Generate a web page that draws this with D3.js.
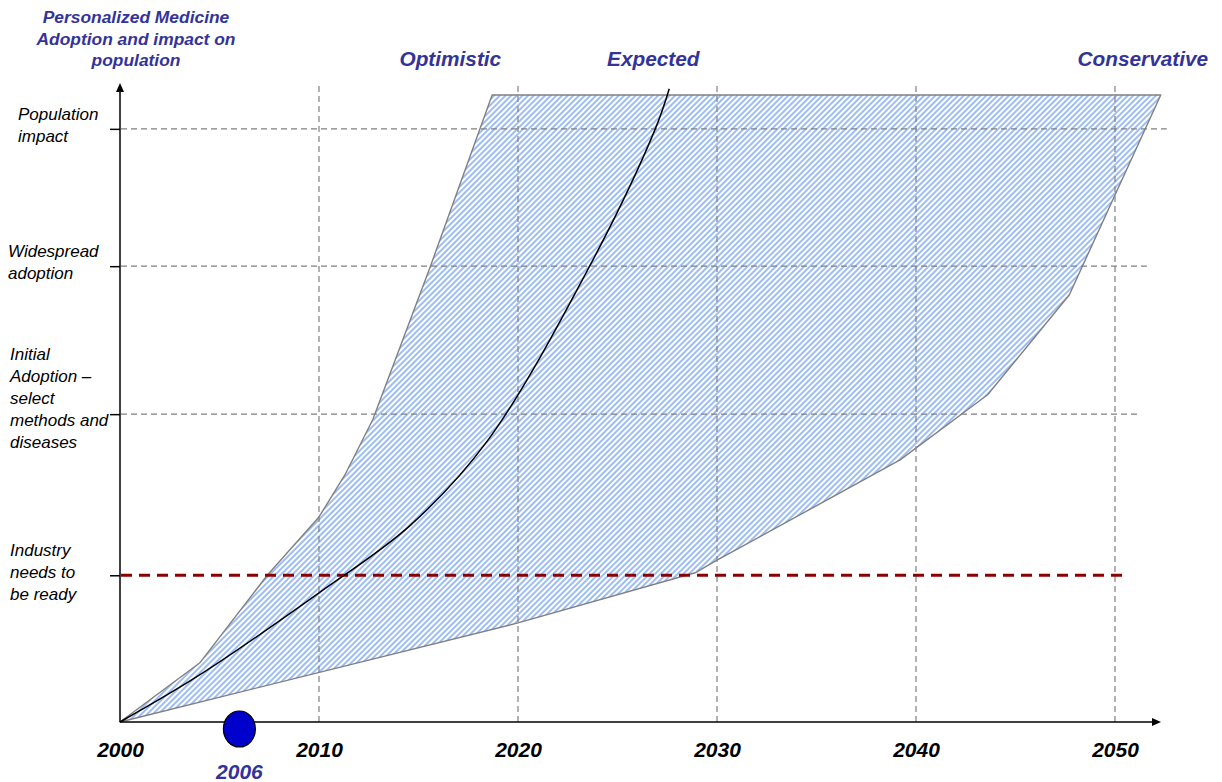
<!DOCTYPE html>
<html>
<head>
<meta charset="utf-8">
<script src="https://cdn.jsdelivr.net/npm/d3@7"></script>
<style>
  body { margin: 0; background: #fff; }
  svg { display: block; font-family: "Liberation Sans", Arial, sans-serif; }
</style>
</head>
<body>
<svg id="chart" width="1222" height="782"></svg>
<script>
// Years marked along the time axis
const yearTicks = [2000, 2010, 2020, 2030, 2040, 2050];

// Adoption milestones on the vertical axis (adoption index, 0–100)
const milestoneValues = [23.4, 49.1, 72.7, 94.6];
const milestoneLabels = [
  ["Industry", "needs to", "be ready"],
  ["Initial", "Adoption \u2013", "select", "methods and", "diseases"],
  ["Widespread", "adoption"],
  ["Population", "impact"]
];

// Optimistic edge of the scenario band: [year, adoption index]
const optimisticEdge = [
  [2000, 0], [2004.0, 9.4], [2007.4, 23.4], [2010.0, 32.7], [2011.3, 39.4],
  [2012.7, 48.2], [2015.6, 72.7], [2018.7, 100]
];
// Conservative edge of the scenario band: [year, adoption index]
const conservativeEdge = [
  [2000, 0], [2020.0, 15.8], [2028.9, 23.8], [2030.0, 25.8], [2039.2, 41.8],
  [2043.6, 52.2], [2047.7, 68.1], [2052.3, 100]
];
// Expected adoption path: [year, adoption index]
const expectedPath = [
  [2000, 0], [2004.0, 7.5], [2010.0, 20.6], [2014.6, 31.4],
  [2018.5, 45.0], [2023.6, 72.7], [2026.9, 94.6], [2027.6, 101]
];
// Present day marker
const todayYear = 2006;

const titleLines = ["Personalized Medicine", "Adoption and impact on", "population"];
const scenarioNames = ["Optimistic", "Expected", "Conservative"];

// ---------------------------------------------------------------------------
const svg = d3.select("#chart");
const x = d3.scaleLinear().domain([2000, 2050]).range([120, 1115]);
const y = d3.scaleLinear().domain([0, 100]).range([722, 95]);

const BLUE_TEXT = "#333399";
const GRID = "#808080";

// Diagonal hatch used for the scenario band
const defs = svg.append("defs");
const hatch = defs.append("pattern")
  .attr("id", "hatch")
  .attr("patternUnits", "userSpaceOnUse")
  .attr("width", 4).attr("height", 4)
  .attr("patternTransform", "rotate(45)");
hatch.append("rect").attr("width", 4).attr("height", 4).attr("fill", "#ffffff");
hatch.append("rect").attr("width", 2).attr("height", 4).attr("fill", "#9dbdf5");

// Scenario band: optimistic edge up, across the top, conservative edge down
const bandPoints = optimisticEdge.concat(conservativeEdge.slice().reverse());
const line = d3.line().x(d => x(d[0])).y(d => y(d[1]));
svg.append("path")
  .attr("d", line(bandPoints) + "Z")
  .attr("fill", "url(#hatch)")
  .attr("stroke", GRID)
  .attr("stroke-width", 1.4)
  .attr("stroke-linejoin", "round");

// Vertical year gridlines
svg.append("g").selectAll("line")
  .data(yearTicks.slice(1))
  .join("line")
  .attr("x1", d => x(d)).attr("x2", d => x(d))
  .attr("y1", y(0)).attr("y2", 82)
  .attr("stroke", GRID).attr("stroke-width", 1.2)
  .attr("stroke-dasharray", "6,4");

// Horizontal milestone guides (the first one is the readiness threshold)
const guideEnds = [2050.7, 2051.3, 2051.6, 2052.6];
svg.append("g").selectAll("line")
  .data(milestoneValues)
  .join("line")
  .attr("x1", x(2000) + 1)
  .attr("x2", (d, i) => x(guideEnds[i]))
  .attr("y1", d => y(d)).attr("y2", d => y(d))
  .attr("stroke", (d, i) => i === 0 ? "#8b0000" : GRID)
  .attr("stroke-width", (d, i) => i === 0 ? 3 : 1.2)
  .attr("stroke-dasharray", (d, i) => i === 0 ? "11,7" : "6,4");

// Expected path
svg.append("path")
  .attr("d", d3.line().x(d => x(d[0])).y(d => y(d[1])).curve(d3.curveCatmullRom.alpha(0.5))(expectedPath))
  .attr("fill", "none")
  .attr("stroke", "#000")
  .attr("stroke-width", 1.5);

// Axes
const xAxis = svg.append("g")
  .attr("transform", `translate(0,${y(0)})`)
  .call(d3.axisBottom(x).tickValues(yearTicks).tickSize(0).tickFormat(d3.format("d")));
xAxis.select(".domain").remove();
xAxis.selectAll("text")
  .attr("y", 35).attr("dy", 0)
  .attr("font-family", "'Liberation Sans', Arial, sans-serif")
  .attr("font-size", 21).attr("font-weight", "bold").attr("font-style", "italic")
  .attr("fill", "#000");

const yAxis = svg.append("g")
  .attr("transform", `translate(${x(2000)},0)`)
  .call(d3.axisLeft(y).tickValues(milestoneValues).tickSize(10).tickFormat(""));
yAxis.select(".domain").remove();
yAxis.selectAll(".tick line").attr("stroke", "#000").attr("stroke-width", 1.5);

// Axis lines with arrowheads
const x0 = x(2000), yb = y(0);
svg.append("line").attr("x1", x0).attr("x2", 1153).attr("y1", yb).attr("y2", yb)
  .attr("stroke", "#000").attr("stroke-width", 1.5);
svg.append("path").attr("d", `M1161,${yb} L1152,${yb - 4} L1152,${yb + 4} Z`).attr("fill", "#000");
svg.append("line").attr("x1", x0).attr("x2", x0).attr("y1", yb).attr("y2", 90)
  .attr("stroke", "#000").attr("stroke-width", 1.5);
svg.append("path").attr("d", `M${x0},83 L${x0 - 4},92 L${x0 + 4},92 Z`).attr("fill", "#000");

// Milestone labels, stacked beside the vertical axis
const labelLeft = [10, 10, 8, 18];
const labelNudge = [3, -10, 2, 2];
const lineH = 22;
milestoneLabels.forEach((lines, i) => {
  const mid = y(milestoneValues[i]) + labelNudge[i];
  const first = mid - (lines.length - 1) * lineH / 2;
  const t = svg.append("text")
    .attr("font-size", 17).attr("font-style", "italic").attr("fill", "#000");
  lines.forEach((s, k) => {
    t.append("tspan").attr("x", labelLeft[i]).attr("y", first + k * lineH).text(s);
  });
});

// Title
const title = svg.append("text")
  .attr("text-anchor", "middle")
  .attr("font-size", 17.4).attr("font-weight", "bold").attr("font-style", "italic")
  .attr("fill", BLUE_TEXT);
titleLines.forEach((s, k) => {
  title.append("tspan").attr("x", 136).attr("y", 23 + k * 21.5).text(s);
});

// Scenario names above the band
const scenarioAt = [2016.6, 2026.8, 2051.4];
svg.append("g").selectAll("text")
  .data(scenarioNames)
  .join("text")
  .attr("x", (d, i) => x(scenarioAt[i]))
  .attr("y", 66)
  .attr("text-anchor", "middle")
  .attr("font-size", 20.8).attr("font-weight", "bold").attr("font-style", "italic")
  .attr("fill", BLUE_TEXT)
  .text(d => d);

// Present-day marker on the time axis
svg.append("ellipse")
  .attr("cx", x(todayYear)).attr("cy", 729)
  .attr("rx", 16).attr("ry", 18)
  .attr("fill", "#0000cc").attr("stroke", "#000").attr("stroke-width", 1.2);
svg.append("text")
  .attr("x", x(todayYear)).attr("y", 779)
  .attr("text-anchor", "middle")
  .attr("font-size", 21).attr("font-weight", "bold").attr("font-style", "italic")
  .attr("fill", BLUE_TEXT)
  .text(todayYear);
</script>
</body>
</html>
